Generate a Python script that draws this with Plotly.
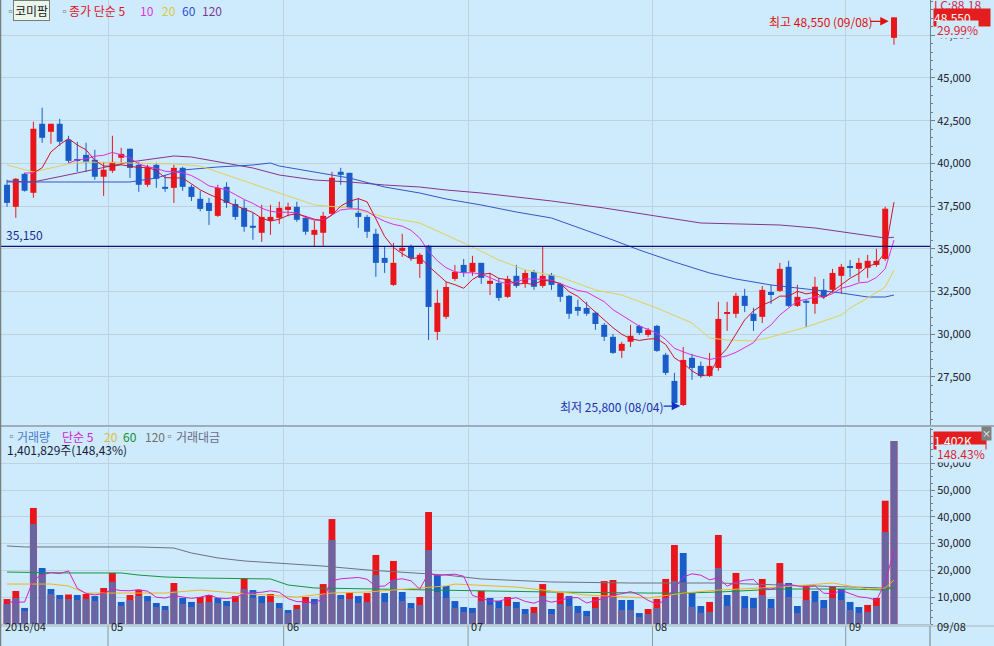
import numpy as np
import pandas as pd
import plotly.graph_objects as go

W, H = 994, 646

# ---------------- data ----------------
open_ = [38750, 37460, 39390, 38280, 42320, 41850, 42320, 41380, 40210, 40500,
         40210, 39220, 39570, 40330, 40860, 39920, 38750, 39920, 38630, 38570,
         39740, 38630, 37930, 37690, 36930, 38630, 37630, 37400, 36350, 35940,
         36640, 36815, 37280, 37460, 36815, 35820, 35940, 37050, 39510, 39450,
         37110, 36870, 35880, 34470, 32890, 34880, 35120, 34120, 35180, 30140,
         31020, 33240, 34060, 33650, 34180, 32950, 33000, 32190, 33420, 33010,
         33650, 32830, 33480, 32950, 32250, 31600, 31540, 31260, 30550, 29850,
         29030, 29560, 30490, 29960, 30490, 28800, 27270, 25860, 28620, 28150,
         27560, 28030, 31200, 31200, 32250, 31200, 31020, 32480, 32540, 33950,
         31660, 31960, 31780, 32600, 32600, 33420, 33950, 33830, 33890, 34060,
         34410, 47350]
high_ = [39040, 39150, 39450, 42440, 43260, 42320, 42610, 41620, 41270, 41210,
         40800, 40090, 41620, 40910, 40860, 40090, 39920, 40040, 39330, 39920,
         39800, 38750, 38400, 37980, 38750, 38900, 37900, 37860, 37100, 37580,
         37580, 37760, 37700, 37760, 36930, 36640, 37170, 39510, 39740, 39450,
         37980, 36990, 36170, 35120, 35350, 35880, 35250, 34760, 35240, 32600,
         33070, 34060, 34410, 34590, 34180, 33590, 33300, 33420, 34060, 33770,
         33770, 35120, 33590, 33010, 32300, 32020, 31900, 31320, 30660, 30020,
         29560, 30550, 30550, 30370, 30550, 28910, 27740, 29260, 28850, 28400,
         28910, 31900, 31900, 32420, 32660, 31550, 32830, 32890, 34180, 34300,
         32900, 32020, 33360, 33240, 33830, 34120, 34350, 34470, 34650, 35000,
         37460, 48550]
low_ = [37460, 36815, 38350, 37990, 41210, 41150, 41030, 40040, 39510, 39510,
        39040, 38100, 39450, 39900, 39150, 38340, 38630, 38570, 38340, 37690,
        38400, 37800, 37200, 36400, 36870, 37400, 36700, 36000, 35530, 35410,
        35820, 36460, 36900, 36580, 35820, 35120, 35180, 36990, 38750, 37340,
        36230, 35640, 33360, 33590, 32830, 34530, 34300, 33300, 29670, 29670,
        30900, 33130, 33360, 33420, 32950, 32300, 31960, 32130, 32720, 32720,
        32600, 32720, 32600, 31900, 30900, 31080, 31080, 30260, 29610, 28850,
        28620, 29260, 29960, 29850, 28970, 27620, 25950, 25800, 27330, 27450,
        27500, 27860, 30200, 30960, 31300, 30200, 30660, 31780, 32480, 31600,
        31600, 30430, 31200, 32070, 32430, 32370, 33360, 33070, 33300, 33950,
        34300, 46950]
close_ = [37690, 39100, 38400, 42030, 41500, 42320, 41270, 40150, 40150, 40090,
          39220, 39630, 40090, 40560, 39740, 38750, 39740, 39100, 38510, 39740,
          38630, 38040, 37340, 37220, 38570, 37690, 36870, 36290, 36230, 36870,
          36870, 37400, 37460, 36700, 36000, 36110, 36930, 39160, 39330, 37400,
          36870, 36000, 34180, 34180, 34180, 35060, 34470, 34650, 31600, 31840,
          32770, 33650, 33600, 34180, 33300, 33130, 32130, 33240, 32830, 33590,
          32780, 33420, 32890, 32190, 31200, 31370, 31200, 30600, 29850, 28910,
          29440, 29910, 30080, 30260, 29030, 27740, 25980, 28500, 28030, 27560,
          28150, 30900, 31260, 32250, 31660, 30780, 32600, 32300, 33830, 31660,
          32190, 31840, 32780, 32190, 33590, 33950, 33890, 34180, 34300, 34300,
          37350, 48550]

# volume (thousand shares) and trading value (million won)
volume_k = [191, 253, 123, 889, 429, 268, 222, 226, 222, 230,
            214, 276, 391, 169, 222, 260, 214, 161, 138, 314,
            199, 169, 207, 222, 199, 176, 214, 352, 260, 214,
            230, 161, 107, 146, 207, 192, 306, 804, 222, 237,
            214, 237, 529, 237, 483, 245, 161, 207, 858, 375,
            291, 176, 130, 123, 253, 199, 176, 207, 169, 115,
            130, 306, 115, 237, 214, 138, 100, 207, 329, 337,
            184, 184, 84, 115, 192, 345, 605, 544, 237, 138,
            169, 682, 222, 391, 214, 199, 345, 192, 467, 314,
            138, 291, 253, 184, 291, 268, 169, 130, 146, 199,
            944.45, 1401.829]
value_m = [7462, 9700, 4850, 37310, 18655, 11193, 9328, 9328, 8954, 9328,
           8581, 11193, 15670, 6716, 8954, 10447, 8581, 6343, 5223, 12312,
           7462, 6343, 7835, 8208, 7835, 6716, 8208, 13059, 9700, 7835,
           8208, 5970, 4104, 5596, 7835, 7462, 10820, 31340, 9328, 9328,
           7835, 8208, 18282, 8208, 16416, 8581, 5970, 7089, 27610, 11939,
           9700, 5970, 4477, 4104, 8581, 7089, 5970, 6716, 5970, 3731,
           4104, 10447, 3731, 7462, 6716, 4104, 2985, 5970, 10074, 10074,
           5223, 5223, 2612, 3731, 5970, 9700, 16043, 15297, 6343, 4104,
           4477, 20894, 6716, 13059, 5970, 5970, 10820, 5970, 15297, 10074,
           4104, 8954, 8208, 5970, 9700, 8954, 5223, 4104, 4477, 6716,
           34325, 68280]

# moving-average lines (index, value)
ma5_lead_idx, ma5_lead_val = [3], [39440]
ma10_lead_idx = [0, 2, 3, 5, 7, 8]
ma10_lead_val = [39557, 39440, 39440, 39732, 40025, 40200]
ma20_idx = [0, 3, 7, 9, 14, 19, 22, 25, 28, 31, 35, 39, 43, 47, 50, 53, 56, 59, 63, 67,
            70, 74, 78, 80, 82, 85, 87, 91, 95, 96, 98, 100, 101]
ma20_val = [39908, 39498, 39966, 40083, 40025, 39966, 39849, 39323, 38796, 38269, 37567,
            37391, 36864, 36513, 35811, 35109, 34347, 33762, 33353, 32592, 32299, 31538,
            30660, 29782, 29665, 29607, 29841, 30426, 31128, 31538, 32123, 32767, 33762]
ma60_idx = [0, 3, 14, 17, 20, 24, 28, 30, 31, 35, 39, 43, 47, 50, 54, 58, 62, 69, 72, 76,
            80, 83, 87, 91, 95, 98, 100, 101]
ma60_val = [38971, 38913, 38913, 39147, 39615, 39791, 39908, 40025, 39849, 39498, 39147,
            38620, 38269, 37918, 37567, 37157, 36806, 35518, 34933, 34231, 33587, 33236,
            32885, 32650, 32416, 32182, 32182, 32299]
ma120_idx = [0, 3, 8, 14, 19, 21, 28, 31, 35, 39, 43, 47, 50, 54, 58, 62, 68, 73, 79, 88,
             92, 96, 100, 101]
ma120_val = [38913, 38913, 39440, 40083, 40435, 40376, 39732, 39323, 39030, 38913, 38737,
             38620, 38445, 38269, 38035, 37801, 37391, 36982, 36513, 36396, 36221, 35928,
             35635, 35680]

vma5_lead_idx, vma5_lead_val = [0, 1, 2, 3], [168, 168, 168, 337]
vma20_idx = [0, 5, 7, 9, 18, 22, 26, 30, 33, 37, 41, 47, 50, 51, 58, 66, 73, 77, 81, 88,
             94, 98, 100, 101]
vma20_val = [306, 306, 291, 237, 237, 260, 237, 222, 207, 237, 245, 276, 291, 306, 283,
             222, 199, 237, 260, 283, 314, 268, 276, 337]
vma60_idx = [0, 7, 13, 15, 18, 22, 30, 32, 35, 41, 50, 62, 73, 77, 81, 88, 96, 100, 101]
vma60_val = [398, 391, 391, 375, 360, 352, 345, 299, 276, 268, 260, 245, 237, 237, 245,
             268, 268, 260, 280]
vma120_idx = [0, 2, 15, 19, 21, 24, 27, 31, 36, 41, 47, 50, 54, 62, 71, 81, 88, 96, 100, 101]
vma120_val = [598, 590, 590, 582, 544, 506, 483, 467, 444, 414, 391, 375, 345, 322, 314,
              314, 299, 283, 276, 286]

month_labels = ['2016/04', '05', '06', '07', '08', '09']
month_start = [0, 12, 32, 53, 74, 96]
price_ticks = [27500, 30000, 32500, 35000, 37500, 40000, 42500, 45000, 47500]
value_ticks = [10000, 20000, 30000, 40000, 50000, 60000]
ref_line = 35150
hi_text = '최고 48,550 (09/08)'
lo_text = '최저 25,800 (08/04)'
last_date = '09/08'

# ---------------- style ----------------
BG = '#cdebfc'
GRID = '#bed2de'
AXL = '#6f7f8c'
UP = '#e8161b'
DN = '#1a5cc8'
FONT = 'Noto Sans CJK KR, DejaVu Sans, sans-serif'

n = len(close_)
xs = list(range(n))
PR = 930  # right edge of plot area (px)
X0, X1 = -0.8, 105.1

def py(y):
    return 1 - y / H

fig = go.Figure()

o = np.array(open_, float); c = np.array(close_, float)
hi = np.array(high_, float); lo = np.array(low_, float)
up = c >= o
col = [UP if u else DN for u in up]
# candle bodies
fig.add_trace(go.Bar(x=xs, y=[float(v) for v in np.abs(c - o)],
                     base=[float(v) for v in np.minimum(o, c)], width=0.68,
                     marker=dict(color=col, line=dict(width=0)), xaxis='x', yaxis='y',
                     hoverinfo='skip'))
# wicks
for mask, colr in ((up, UP), (~up, DN)):
    wx, wy = [], []
    for i in np.where(mask)[0]:
        wx += [int(i), int(i), None]
        wy += [float(lo[i]), float(hi[i]), None]
    fig.add_trace(go.Scatter(x=wx, y=wy, mode='lines', line=dict(color=colr, width=1),
                             xaxis='x', yaxis='y', hoverinfo='skip'))

s = pd.Series(c)
def with_lead(series, lidx, lval, k=1.0):
    out = series.copy()
    for i, v in zip(lidx, lval):
        out.iloc[i] = v
    return [None if pd.isna(v) else float(v) * k for v in out]
ma5 = with_lead(s.rolling(5).mean(), ma5_lead_idx, ma5_lead_val)
ma10 = with_lead(s.rolling(10).mean(), ma10_lead_idx, ma10_lead_val)

def line(x, y, color, xa='x', ya='y', w=1.0):
    fig.add_trace(go.Scatter(x=list(x), y=list(y), mode='lines',
                             line=dict(color=color, width=w),
                             xaxis=xa, yaxis=ya, hoverinfo='skip'))

line(ma120_idx, ma120_val, '#86358a')
line(ma60_idx, ma60_val, '#3555cc')
line(ma20_idx, ma20_val, '#e2cf5a')
line(xs, ma10, '#e22ce0')
line(xs, ma5, '#d4102c')

# volume pane: volume and trading value are each scaled to their own maximum
vol = np.array(volume_k, float); val = np.array(value_m, float)
K = float(val.max() / vol.max())          # volume -> value-axis scale
vcol = [UP if (i == 0 or vol[i] > vol[i - 1]) else DN for i in range(n)]
VAL_TOP = 73134.0
fig.add_trace(go.Bar(x=xs, y=[float(v) * K for v in vol], width=0.78,
                     marker=dict(color=vcol, line=dict(width=0)),
                     xaxis='x2', yaxis='y2', hoverinfo='skip'))
fig.add_trace(go.Bar(x=xs, y=[float(v) for v in val], width=0.78,
                     marker=dict(color='#6a64a0', line=dict(width=0)),
                     xaxis='x2', yaxis='y2', hoverinfo='skip'))
vs = pd.Series(vol)
vma5 = with_lead(vs.rolling(5).mean(), vma5_lead_idx, vma5_lead_val, K)
line(vma120_idx, [v * K for v in vma120_val], '#707080', 'x2', 'y2')
line(vma60_idx, [v * K for v in vma60_val], '#14963c', 'x2', 'y2')
line(vma20_idx, [v * K for v in vma20_val], '#f0b420', 'x2', 'y2')
line(xs, vma5, '#d420c8', 'x2', 'y2')

grid_x = [m - 0.5 for m in month_start[1:]]
xcommon = dict(domain=[0, PR / W], range=[X0, X1], tickmode='array', tickvals=grid_x,
               showticklabels=False, ticks='', showgrid=True, gridcolor=GRID, gridwidth=1,
               zeroline=False)
ycommon = dict(side='right', ticks='outside', ticklen=4, tickcolor=AXL, showline=True,
               linecolor=AXL, linewidth=1, showgrid=True, gridcolor=GRID, zeroline=False,
               tickfont=dict(size=11, color='#202030'), tickformat=',', tickmode='array')
fig.update_layout(
    width=W, height=H, margin=dict(l=0, r=0, t=0, b=0, pad=0),
    paper_bgcolor=BG, plot_bgcolor=BG, showlegend=False, barmode='overlay',
    font=dict(family=FONT, size=12),
    xaxis=dict(anchor='y', **xcommon),
    xaxis2=dict(anchor='y2', showline=True, linecolor='#b4c2cc', **xcommon),
    yaxis=dict(domain=[py(425), py(0)], range=[24690, 49565], anchor='x',
               tickvals=price_ticks,
               minor=dict(tickmode='linear', tick0=0, dtick=500, ticks='outside',
                          ticklen=2, tickcolor=AXL, showgrid=False),
               **ycommon),
    yaxis2=dict(domain=[py(624), py(428)], range=[0, VAL_TOP], anchor='x2',
                tickvals=value_ticks,
                minor=dict(tickmode='linear', tick0=0, dtick=2500, ticks='outside',
                           ticklen=2, tickcolor=AXL, showgrid=False),
                **ycommon),
)

# reference horizontal line
fig.add_shape(type='line', xref='paper', yref='y', x0=0, x1=PR / W, y0=ref_line, y1=ref_line,
              line=dict(color='#10107e', width=1.3), layer='above')
fig.add_annotation(xref='paper', yref='y', x=4 / W, y=ref_line, text=f'{ref_line:,}',
                   xanchor='left', yanchor='bottom', yshift=1, showarrow=False,
                   font=dict(color='#1a2a90', size=12))

def pline(x0, y0, x1, y1, color, w=1):
    fig.add_shape(type='line', xref='paper', yref='paper', x0=x0 / W, x1=x1 / W,
                  y0=py(y0), y1=py(y1), line=dict(color=color, width=w), layer='above')
pline(0, 426, W, 426, '#8c98a4', 1.5)
pline(0, 626, W, 626, '#a8b6c0', 1)
pline(0.5, 0, 0.5, H, '#7c7c7c', 1.5)
pline(PR, 626, PR, H, AXL, 1)

# bottom date strip
for k, (lab, m) in enumerate(zip(month_labels, month_start)):
    if k == 0:
        fig.add_annotation(xref='paper', yref='paper', x=3 / W, y=py(636), text=lab,
                           xanchor='left', showarrow=False, font=dict(size=11, color='#202020'))
    else:
        fig.add_shape(type='line', xref='x2', yref='paper', x0=m - 0.5, x1=m - 0.5,
                      y0=0, y1=py(626), line=dict(color='#8c98a4', width=1))
        fig.add_annotation(xref='x2', yref='paper', x=m - 0.5, y=py(636), text=lab,
                           xanchor='left', xshift=1, showarrow=False,
                           font=dict(size=11, color='#202020'))
fig.add_annotation(xref='paper', yref='paper', x=935 / W, y=py(636), text=last_date,
                   xanchor='left', showarrow=False, font=dict(size=11, color='#202020'))

# high / low markers
hi_i = int(np.argmax(hi)); lo_i = int(np.argmin(lo))
fig.add_annotation(xref='x', yref='y', x=hi_i - 0.6, y=float(hi[hi_i]), yshift=-4, text='',
                   showarrow=True, ax=-20, ay=0, arrowhead=2, arrowsize=1.3, arrowwidth=1.3,
                   arrowcolor='#e01010')
fig.add_annotation(xref='x', yref='y', x=hi_i - 0.6, y=float(hi[hi_i]), yshift=-4, xshift=-14,
                   text=hi_text, xanchor='right', showarrow=False,
                   font=dict(color='#e01010', size=12))
fig.add_annotation(xref='x', yref='y', x=lo_i - 0.35, y=float(lo[lo_i]), text='',
                   showarrow=True, ax=-18, ay=0, arrowhead=2, arrowsize=1.3, arrowwidth=1.3,
                   arrowcolor='#1030c0')
fig.add_annotation(xref='x', yref='y', x=lo_i - 0.35, y=float(lo[lo_i]), xshift=-14,
                   text=lo_text, xanchor='right', showarrow=False,
                   font=dict(color='#1a30b0', size=12))

def label(xp, yp, text, color, size=12, anchor='left', **kw):
    fig.add_annotation(xref='paper', yref='paper', x=xp / W, y=py(yp), text=text,
                       showarrow=False, xanchor=anchor, yanchor='middle',
                       font=dict(color=color, size=size, family=FONT), **kw)

# right-side price boxes
label(932, 5, 'LC:88.18', '#d02848')
fig.add_annotation(xref='paper', yref='y', x=933 / W, y=close_[-1], text=f'{close_[-1]:,}',
                   xanchor='left', yanchor='middle', showarrow=False, bgcolor='#e41e1e',
                   width=56, align='left', borderpad=0, font=dict(color='white', size=12))
label(936, 30, f'{(close_[-1] / close_[-2] - 1) * 100:.2f}%', '#e02030', bgcolor=BG,
      borderpad=0)
# right-side volume boxes
label(933, 440, f'{vol[-1]:,.0f}K', 'white', bgcolor='#e41e1e', width=52, align='left',
      borderpad=0)
label(936, 453, f'{vol[-1] / vol[-2] * 100:.2f}%', '#e02030', bgcolor=BG, borderpad=0)
label(986, 433, '×', 'white', size=9, anchor='center', bgcolor='#808080', borderpad=0)

# legends
label(3, 11, '▫', '#808080', 11)
label(13, 11, '코미팜', '#1a1a1a', 12, bgcolor='#e9f6e9', bordercolor='#7a7a7a',
      borderwidth=1, borderpad=1)
label(57, 11, '▫', '#808080', 11)
label(67, 11, '종가 단순 5', '#e0102a')
label(138, 11, '10', '#e030e0')
label(160, 11, '20', '#dcc840')
label(180, 11, '60', '#3050d0')
label(200, 11, '120', '#803a90')

label(4, 436, '▫', '#808080', 11)
label(15, 436, '거래량', '#4a7ac8')
label(60, 436, '단순 5', '#d020d0')
label(102, 436, '20', '#dcc040')
label(121, 436, '60', '#109030')
label(143, 436, '120', '#707070')
label(162, 436, '▫', '#808080', 11)
label(174, 436, '거래대금', '#6a6a8a')
label(5, 449, f'{vol[-1] * 1000:,.0f}주(148,43%)', '#1a1a3a')

fig.write_html('out.html', config={'displayModeBar': False},
               post_script="document.body.style.margin='0';document.body.style.overflow='hidden';")
